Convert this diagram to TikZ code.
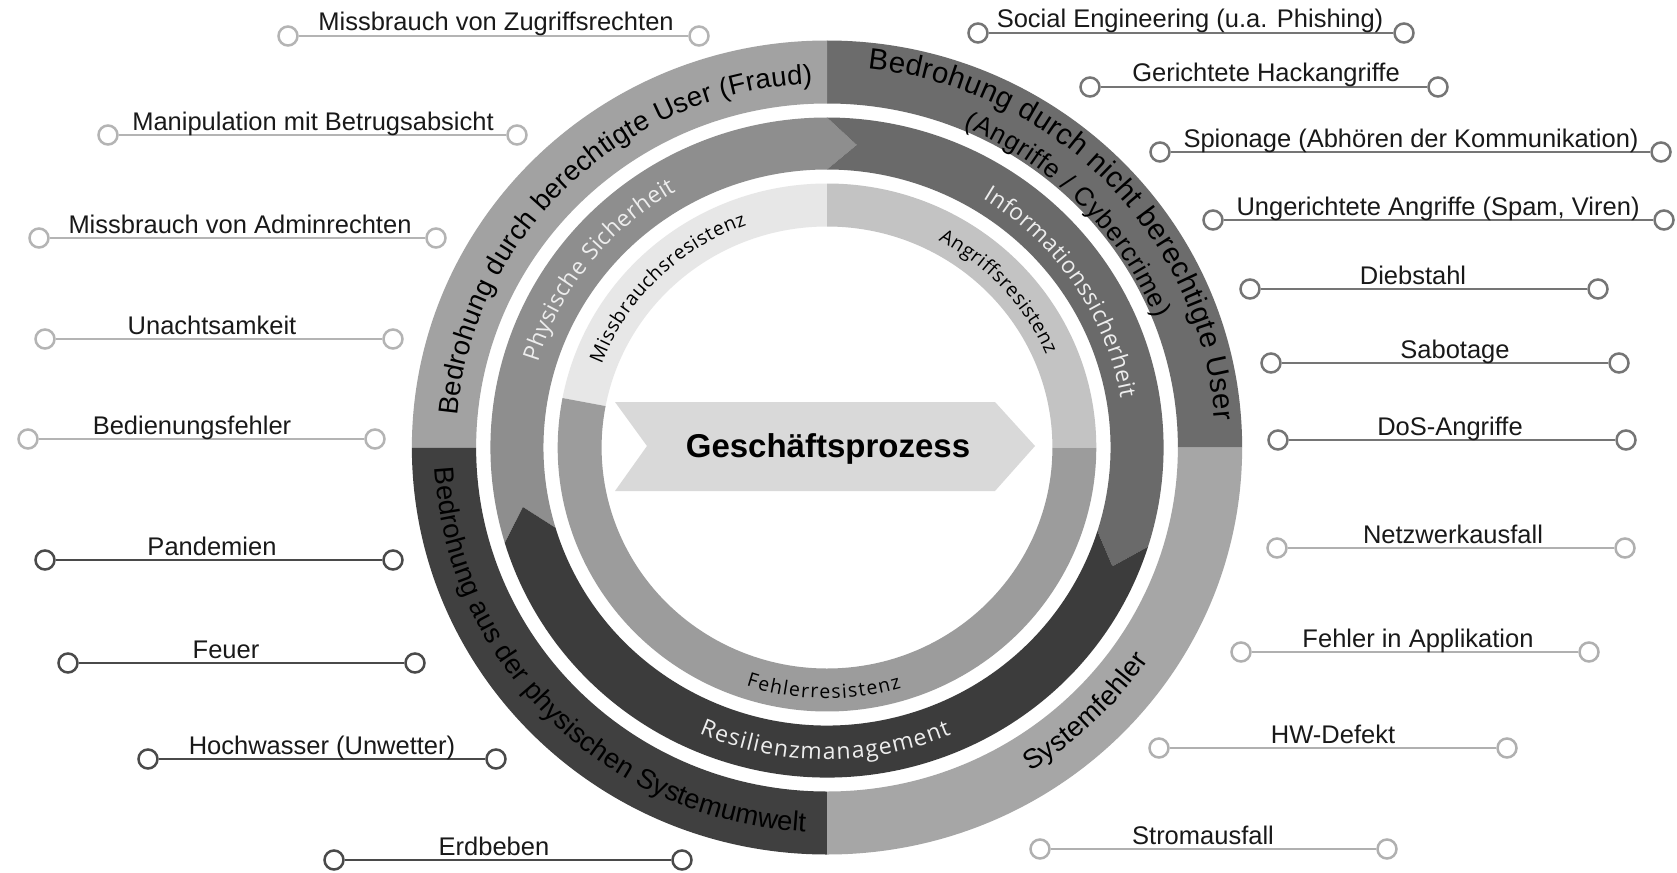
\documentclass[tikz,border=0pt]{standalone}
\usepackage{fontspec}
\setmainfont{Liberation Sans}
\newfontfamily\segoe{Open Sans}
\usepackage{tikz}
\usetikzlibrary{decorations.text}
\usepackage{xcolor}

\definecolor{ringTL}{HTML}{A2A2A2}
\definecolor{ringTR}{HTML}{6C6C6C}
\definecolor{ringBL}{HTML}{404040}
\definecolor{ringBR}{HTML}{A6A6A6}
\definecolor{midPhys}{HTML}{8E8E8E}
\definecolor{midInfo}{HTML}{6A6A6A}
\definecolor{midRes}{HTML}{3C3C3C}
\definecolor{midText}{HTML}{EDEDED}
\definecolor{inMiss}{HTML}{E7E7E7}
\definecolor{inAngr}{HTML}{C3C3C3}
\definecolor{inFehl}{HTML}{9C9C9C}
\definecolor{process}{HTML}{D9D9D9}
\definecolor{pinTL}{HTML}{B4B4B4}
\definecolor{pinTR}{HTML}{757575}
\definecolor{pinBL}{HTML}{4A4A4A}
\definecolor{pinBR}{HTML}{B0B0B0}

\newcommand\ringfont{\fontsize{27.5}{30}\selectfont}
\newcommand\ringfontbig{\fontsize{29.5}{32}\selectfont}
\newcommand\ringfontsmall{\fontsize{26}{28}\selectfont}
\newcommand\midfont{\segoe\fontsize{23}{25}\selectfont}
\newcommand\innerfont{\segoe\fontsize{19.5}{21}\selectfont}

\begin{document}
\begin{tikzpicture}[
    x=1pt, y=-1pt,
    knob/.style = {
      shape=circle,
      draw,
      fill=white,
      line width=2.5pt,
      minimum size=19pt,
      inner sep=0pt
    },
    wire/.style = {
      line width=2.5pt
    },
    threat/.style = {
      font=\fontsize{25.5}{30}\selectfont,
      text=black!90,
      inner sep=0pt
    },
    ringtext/.style = {
      decorate,
      decoration={text along path, text align={fit to path}, text={#1}}
    },
    lighttext/.style = {
      decoration={text color=midText}
    }
  ]

    % Canvas
    \fill[white] (0,0) rectangle (1677,872);
    \useasboundingbox (0,0) rectangle (1677,872);

    % Rings around the process
    \begin{scope}[shift={(827,447.5)}, y=1pt, xscale=1.02]
      % outer ring: four threat sources
      \foreach \a/\col in {0/ringTR, 90/ringTL, 180/ringBL, 270/ringBR}
        \fill[\col] (\a:344) arc[start angle=\a, end angle={\a+90}, radius=344]
          -- ({\a+90}:407) arc[start angle={\a+90}, end angle=\a, radius=407] -- cycle;

      % middle ring: three arrows
      \fill[midPhys] (196.8:330) arc[start angle=196.8, end angle=90, radius=330]
        -- (84.5:304) -- (90:278) arc[start angle=90, end angle=196.8, radius=278]
        -- (191.3:304) -- cycle;
      \fill[midInfo] (90:330) arc[start angle=90, end angle=-17.5, radius=330]
        -- (-23:304) -- (-17.5:278) arc[start angle=-17.5, end angle=90, radius=278]
        -- (84.5:304) -- cycle;
      \fill[midRes] (-17.5:330) arc[start angle=-17.5, end angle=-163.2, radius=330]
        -- (-168.7:304) -- (-163.2:278) arc[start angle=-163.2, end angle=-17.5, radius=278]
        -- (-23:304) -- cycle;

      % inner ring: resistances
      \fill[inMiss] (169.2:221) arc[start angle=169.2, end angle=90, radius=221]
        -- (90:264) arc[start angle=90, end angle=169.2, radius=264] -- cycle;
      \fill[inAngr] (90:221) arc[start angle=90, end angle=0, radius=221]
        -- (0:264) arc[start angle=0, end angle=90, radius=264] -- cycle;
      \fill[inFehl] (0:221) arc[start angle=0, end angle=-190.8, radius=221]
        -- (-190.8:264) arc[start angle=-190.8, end angle=0, radius=264] -- cycle;

      % outer ring texts
      \path[ringtext={|\ringfont|Bedrohung durch berechtigte User (Fraud)}]
        (175:364) arc[start angle=175, end angle=92.3, radius=364];
      \path[ringtext={|\ringfontbig|Bedrohung durch nicht berechtigte User}]
        (84:381) arc[start angle=84, end angle=4, radius=381];
      \path[ringtext={|\ringfontsmall|(Angriffe / Cybercrime)}]
        (67.3:347) arc[start angle=67.3, end angle=21.8, radius=347];
      \path[ringtext={|\ringfont|Bedrohung aus der physischen Systemumwelt}]
        (183:385) arc[start angle=183, end angle=266.8, radius=385];
      \path[ringtext={|\ringfont|Systemfehler}]
        (-58.4:380) arc[start angle=-58.4, end angle=-34, radius=380];

      % middle ring texts
      \path[ringtext={|\midfont|Physische Sicherheit}, lighttext]
        (163.3:296) arc[start angle=163.3, end angle=120, radius=296];
      \path[ringtext={|\midfont|Informationssicherheit}, lighttext]
        (58.5:292) arc[start angle=58.5, end angle=9.7, radius=292];
      \path[ringtext={|\midfont|Resilienzmanagement}, lighttext]
        (246.3:312) arc[start angle=246.3, end angle=293, radius=312];

      % inner ring texts
      \path[ringtext={|\innerfont|Missbrauchsresistenz}]
        (159.4:236) arc[start angle=159.4, end angle=109.5, radius=236];
      \path[ringtext={|\innerfont|Angriffsresistenz}]
        (62.2:234) arc[start angle=62.2, end angle=23.3, radius=234];
      \path[ringtext={|\innerfont|Fehlerresistenz}]
        (251.6:251) arc[start angle=251.6, end angle=286.9, radius=251];
    \end{scope}

    % Business process in the centre
    \fill[process] (615,402) -- (995,402) -- (1035,446) -- (995,491) -- (615,491) -- (647,446) -- cycle;
    \node[font=\bfseries\fontsize{33}{36}\selectfont, anchor=base] (proc) at (828,457) {Geschäftsprozess};

    % Threats on both sides
    \foreach \xa/\xb/\y/\xt/\txt/\col [count=\n] in {
        288/699/36/496/{Missbrauch von Zugriffsrechten}/pinTL,
        108/517/135/313/{Manipulation mit Betrugsabsicht}/pinTL,
        39/436/238/240/{Missbrauch von Adminrechten}/pinTL,
        45/393/339/212/{Unachtsamkeit}/pinTL,
        28/375/439/192/{Bedienungsfehler}/pinTL,
        45/393/560/212/{Pandemien}/pinBL,
        68/415/663/226/{Feuer}/pinBL,
        148/496/759/322/{Hochwasser (Unwetter)}/pinBL,
        334/682/860/494/{Erdbeben}/pinBL,
        978/1404/33/1190/{Social Engineering (u.a. Phishing)}/pinTR,
        1090/1438/87/1266/{Gerichtete Hackangriffe}/pinTR,
        1160/1661/152/1411/{Spionage (Abhören der Kommunikation)}/pinTR,
        1213/1664/220/1438/{Ungerichtete Angriffe (Spam, Viren)}/pinTR,
        1250/1598/289/1413/{Diebstahl}/pinTR,
        1271/1619/363/1455/{Sabotage}/pinTR,
        1278/1626/440/1450/{DoS-Angriffe}/pinTR,
        1277/1625/548/1453/{Netzwerkausfall}/pinBR,
        1241/1589/652/1418/{Fehler in Applikation}/pinBR,
        1159/1507/748/1333/{HW-Defekt}/pinBR,
        1040/1387/849/1203/{Stromausfall}/pinBR} {
      \node[knob, draw=\col] (ka\n) at (\xa,\y) {};
      \node[knob, draw=\col] (kb\n) at (\xb,\y) {};
      \draw[wire, \col] (ka\n) -- (kb\n);
      \node[threat, anchor=base] (t\n) at (\xt,\y-5) {\txt};
    }

  \end{tikzpicture}
\end{document}
